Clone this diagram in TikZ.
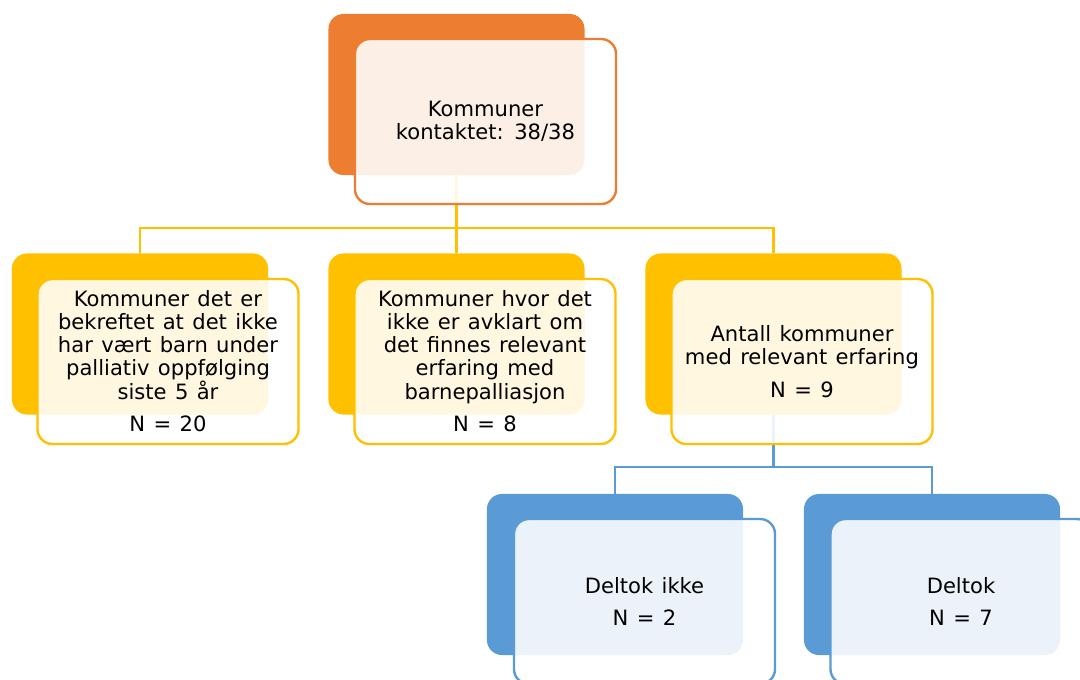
\documentclass[tikz,border=0pt]{standalone}
\usepackage{fontspec}
\setmainfont[WordSpace=1.25]{DejaVu Sans}
\definecolor{orangeA}{HTML}{ED7D31}
\definecolor{goldA}{HTML}{FFC000}
\definecolor{blueA}{HTML}{5B9BD5}
\begin{document}
\begin{tikzpicture}[x=0.025cm,y=-0.025cm,
  back/.style={rounded corners=0.375cm,minimum width=6.4cm,minimum height=4.025cm,inner sep=0pt,fill=#1},
  front/.style={rounded corners=0.375cm,minimum width=6.525cm,minimum height=4.125cm,inner sep=0pt,
    draw=#1,line width=1.7pt,fill=white,fill opacity=0.88,text opacity=1,align=center,
    font=\fontsize{15}{16.4}\selectfont},
  conn/.style={line width=2pt,draw=#1}]
\clip (0,0) rectangle (1080,679);
% back boxes
\node[back=orangeA] (top) at (456.5,94.5) {};
\node[back=goldA] (bekr) at (140,334) {};
\node[back=goldA] (avkl) at (456.5,334) {};
\node[back=goldA] (erf) at (773.5,334) {};
\node[back=blueA] (ikke) at (615,574.5) {};
\node[back=blueA] (delt) at (932,574.5) {};
% connectors
\coordinate (bar1) at (456.5,228);
\coordinate (bar2) at (773.5,467);
\draw[conn=goldA] (top.south) -- (bar1);
\draw[conn=goldA] (bekr.north) |- (bar1) -| (erf.north);
\draw[conn=goldA] (bar1) -- (avkl.north);
\draw[conn=blueA] (erf.south) -- (bar2);
\draw[conn=blueA] (ikke.north) |- (bar2) -| (delt.north);
% front boxes
\node[front=orangeA] (topT) at (485.5,121.5) {Kommuner\\kontaktet: 38/38};
\node[front=goldA] (bekrT) at (168,361.5) {Kommuner det er\\bekreftet at det ikke\\har vært barn under\\palliativ oppfølging\\siste 5 år\\[7pt]N = 20};
\node[front=goldA] (avklT) at (485,361.5) {Kommuner hvor det\\ikke er avklart om\\det finnes relevant\\erfaring med\\barnepalliasjon\\[7pt]N = 8};
\node[front=goldA] (erfT) at (802,361.5) {Antall kommuner\\med relevant erfaring\\[7pt]N = 9};
\node[front=blueA] (ikkeT) at (644.5,601.5) {Deltok ikke\\[7pt]N = 2};
\node[front=blueA] (deltT) at (961,601.5) {Deltok\\[7pt]N = 7};
\end{tikzpicture}
\end{document}
